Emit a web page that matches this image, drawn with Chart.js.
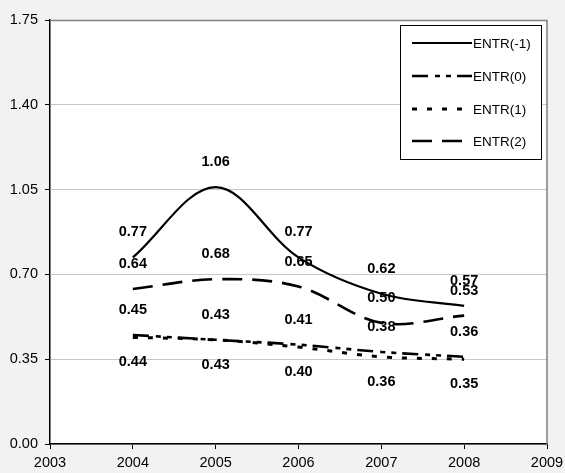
<!DOCTYPE html>
<html>
<head>
<meta charset="utf-8">
<script src="https://cdn.jsdelivr.net/npm/chart.js@4"></script>
<style>
  html, body { margin: 0; padding: 0; background: #f2f2f2; }
  #wrap { width: 565px; height: 473px; }
</style>
</head>
<body>
<div id="wrap"><canvas id="lineChart" width="565" height="473"></canvas></div>
<script>
// data
const years = [2004, 2005, 2006, 2007, 2008];
const entrM1 = [0.77, 1.06, 0.77, 0.62, 0.57];
const entr0 = [0.45, 0.43, 0.41, 0.38, 0.36];
const entr1 = [0.44, 0.43, 0.40, 0.36, 0.35];
const entr2 = [0.64, 0.68, 0.65, 0.50, 0.53];
const seriesNames = ['ENTR(-1)', 'ENTR(0)', 'ENTR(1)', 'ENTR(2)'];
const yTicks = [0, 0.35, 0.70, 1.05, 1.40, 1.75];
const xTicks = [2003, 2004, 2005, 2006, 2007, 2008, 2009];

const FONT = "'Liberation Sans', Arial, sans-serif";

function pts(vals) {
  return years.map((y, i) => ({ x: y, y: vals[i] }));
}

const styles = [
  { dash: [], width: 2.2, labelPos: -25 },
  { dash: [16, 7, 5, 6, 5, 6], width: 2.6, labelPos: -25 },
  { dash: [5, 10], width: 3, labelPos: 25 },
  { dash: [20, 10], width: 2.6, labelPos: -25 }
];

// white plot area + gray border on top/right
const plotBg = {
  id: 'plotBg',
  beforeDraw(chart) {
    const { ctx, chartArea: a } = chart;
    ctx.save();
    ctx.fillStyle = '#ffffff';
    ctx.fillRect(a.left, a.top, a.right - a.left, a.bottom - a.top);
    ctx.restore();
  },
  afterDatasetsDraw(chart) {
    const { ctx, chartArea: a } = chart;
    ctx.save();
    ctx.strokeStyle = '#808080';
    ctx.lineWidth = 1.5;
    ctx.beginPath();
    ctx.moveTo(a.left, a.top + 0.5);
    ctx.lineTo(a.right, a.top + 0.5);
    ctx.lineTo(a.right, a.bottom);
    ctx.stroke();
    ctx.restore();
  }
};

// value labels above / below points
const valueLabels = {
  id: 'valueLabels',
  afterDatasetsDraw(chart) {
    const ctx = chart.ctx;
    ctx.save();
    ctx.font = 'bold 14.5px ' + FONT;
    ctx.fillStyle = '#000';
    ctx.textAlign = 'center';
    ctx.textBaseline = 'middle';
    chart.data.datasets.forEach((ds, i) => {
      const meta = chart.getDatasetMeta(i);
      meta.data.forEach((el, j) => {
        ctx.fillText(ds.data[j].y.toFixed(2), el.x, el.y + styles[i].labelPos);
      });
    });
    ctx.restore();
  }
};

// legend box
const boxLegend = {
  id: 'boxLegend',
  afterDraw(chart) {
    const ctx = chart.ctx;
    const bx = 400.5, by = 25.5, bw = 141, bh = 134;
    ctx.save();
    ctx.fillStyle = '#fff';
    ctx.fillRect(bx, by, bw, bh);
    ctx.strokeStyle = '#000';
    ctx.lineWidth = 1;
    ctx.strokeRect(bx, by, bw, bh);
    const rows = [43, 76, 109, 141];
    ctx.font = '13.5px ' + FONT;
    ctx.textBaseline = 'middle';
    ctx.textAlign = 'left';
    seriesNames.forEach((name, i) => {
      ctx.strokeStyle = '#000';
      ctx.lineWidth = styles[i].width;
      ctx.setLineDash(styles[i].dash);
      ctx.beginPath();
      ctx.moveTo(412, rows[i]);
      ctx.lineTo(472, rows[i]);
      ctx.stroke();
      ctx.setLineDash([]);
      ctx.fillStyle = '#000';
      ctx.fillText(name, 473, rows[i] + 1);
    });
    ctx.restore();
  }
};

const ctx = document.getElementById('lineChart').getContext('2d');
new Chart(ctx, {
  type: 'line',
  data: {
    datasets: [entrM1, entr0, entr1, entr2].map((vals, i) => ({
      label: seriesNames[i],
      data: pts(vals),
      borderColor: '#000',
      borderWidth: styles[i].width,
      borderDash: styles[i].dash,
      pointRadius: 0,
      tension: 0.35,
      fill: false
    }))
  },
  options: {
    responsive: false,
    animation: false,
    layout: { padding: { top: 20, right: 18, left: 0, bottom: 0 } },
    plugins: {
      legend: { display: false },
      tooltip: { enabled: false }
    },
    scales: {
      x: {
        type: 'linear',
        min: 2003,
        max: 2009,
        afterBuildTicks: s => { s.ticks = xTicks.map(v => ({ value: v })); },
        afterFit: s => { s.height = 29; s.paddingLeft = 0; s.paddingRight = 0; },
        border: { color: '#000', width: 1.5 },
        grid: { drawOnChartArea: false, tickColor: '#000', tickLength: 5 },
        ticks: {
          color: '#000',
          font: { family: FONT, size: 14.5 },
          padding: 5,
          maxRotation: 0,
          callback: v => String(v)
        }
      },
      y: {
        min: 0,
        max: 1.75,
        afterBuildTicks: s => { s.ticks = yTicks.map(v => ({ value: v })); },
        afterFit: s => { s.width = 50; s.paddingTop = 0; s.paddingBottom = 0; },
        border: { color: '#000', width: 1.5 },
        grid: { color: '#c8c8c8', tickColor: '#000', tickLength: 5 },
        ticks: {
          color: '#000',
          font: { family: FONT, size: 14.5 },
          padding: 7,
          callback: v => Number(v).toFixed(2)
        }
      }
    }
  },
  plugins: [plotBg, valueLabels, boxLegend]
});
</script>
</body>
</html>
